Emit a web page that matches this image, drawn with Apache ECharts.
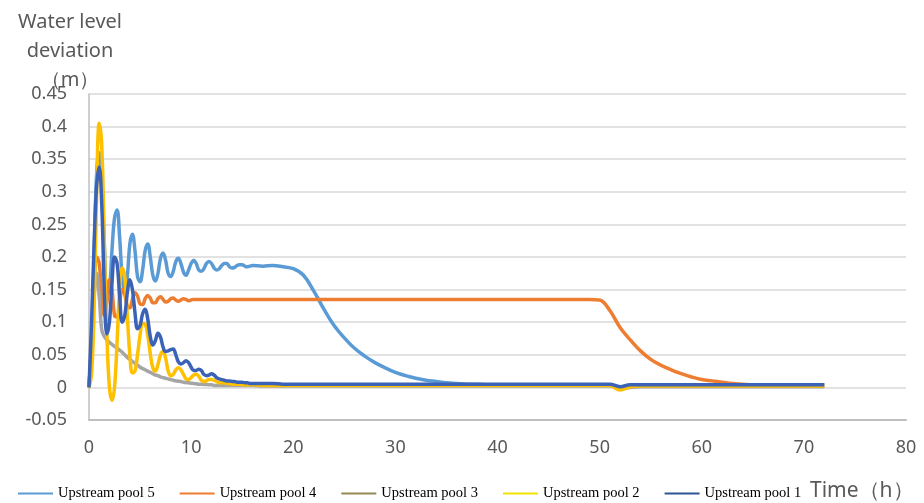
<!DOCTYPE html>
<html>
<head>
<meta charset="utf-8">
<script src="https://cdn.jsdelivr.net/npm/echarts@6/dist/echarts.min.js"></script>
<style>html,body{margin:0;padding:0;background:#fff}#chart{width:924px;height:503px}</style>
</head>
<body>
<div id="chart"></div>
<script>
// time axis (h)
const hours = [0,0.25,0.5,0.75,1,1.25,1.5,1.75,2,2.25,2.5,2.75,3,3.25,3.5,3.75,4,4.25,4.5,4.75,5,5.25,5.5,5.75,6,6.25,6.5,6.75,7,7.25,7.5,7.75,8,8.25,8.5,8.75,9,9.25,9.5,9.75,10,10.25,10.5,10.75,11,11.25,11.5,11.75,12,12.25,12.5,12.75,13,13.25,13.5,13.75,14,14.25,14.5,14.75,15,15.25,15.5,15.75,16,
17,18,19,20,21,22,23,24,25,26,27,28,29,30,31,32,33,34,35,36,37,38,39,40,41,42,43,44,45,46,47,48,49,50,51,52,53,54,55,56,57,58,59,60,61,62,63,64,65,66,67,68,69,70,71,72];

const seriesNames = ['Upstream pool 5','Upstream pool 4','Upstream pool 3','Upstream pool 2','Upstream pool 1'];

const pool5 = [0,0.07,0.2,0.33,0.36,0.32,0.22,0.14,0.15,0.21,0.26,0.272,0.23,0.17,0.147,0.17,0.22,0.235,0.21,0.17,0.162,0.18,0.21,0.22,0.2,0.172,0.163,0.175,0.198,0.206,0.195,0.175,0.17,0.178,0.193,0.198,0.19,0.177,0.172,0.18,0.19,0.195,0.19,0.18,0.178,0.182,0.19,0.193,0.19,0.183,0.18,0.182,0.187,0.19,0.19,0.185,0.183,0.184,0.187,0.188,0.188,0.186,0.185,0.186,0.187,
0.186,0.187,0.185,0.182,0.172,0.148,0.12,0.095,0.076,0.06,0.048,0.038,0.03,0.023,0.018,0.014,0.011,0.009,0.007,0.006,0.005,0.005,0.004,0.004,0.004,0.004,0.004,0.004,0.004,0.004,0.004,0.004,0.004,0.004,0.004,-0.002,0.002,0.003,0.003,0.003,0.003,0.003,0.003,0.003,0.003,0.003,0.003,0.003,0.003,0.003,0.003,0.003,0.003,0.003,0.003];

const pool4 = [0,0.07,0.16,0.2,0.19,0.14,0.11,0.13,0.165,0.15,0.11,0.108,0.13,0.15,0.143,0.125,0.122,0.135,0.145,0.14,0.128,0.127,0.136,0.141,0.137,0.13,0.13,0.136,0.139,0.135,0.131,0.132,0.136,0.137,0.134,0.132,0.134,0.136,0.135,0.133,0.134,0.135,0.135,0.135,0.135,0.135,0.135,0.135,0.135,0.135,0.135,0.135,0.135,0.135,0.135,0.135,0.135,0.135,0.135,0.135,0.135,0.135,0.135,0.135,0.135,
0.135,0.135,0.135,0.135,0.135,0.135,0.135,0.135,0.135,0.135,0.135,0.135,0.135,0.135,0.135,0.135,0.135,0.135,0.135,0.135,0.135,0.135,0.135,0.135,0.135,0.135,0.135,0.135,0.135,0.135,0.135,0.135,0.135,0.134,0.118,0.092,0.073,0.056,0.043,0.034,0.027,0.021,0.016,0.012,0.01,0.008,0.006,0.005,0.004,0.004,0.004,0.004,0.004,0.004,0.004,0.004];

const pool3 = [0,0.06,0.14,0.175,0.14,0.088,0.078,0.073,0.069,0.066,0.063,0.06,0.057,0.054,0.05,0.046,0.043,0.04,0.037,0.034,0.031,0.029,0.027,0.025,0.023,0.021,0.019,0.018,0.016,0.015,0.014,0.013,0.012,0.011,0.01,0.0095,0.009,0.008,0.0075,0.007,0.0065,0.006,0.0055,0.005,0.005,0.0045,0.0045,0.004,0.004,0.003,0.003,0.003,0.003,0.003,0.003,0.003,0.003,0.003,0.003,0.003,0.003,0.003,0.003,0.003,0.003,
0.002,0.002,0.002,0.002,0.002,0.002,0.002,0.002,0.002,0.002,0.002,0.002,0.002,0.002,0.002,0.002,0.002,0.002,0.002,0.002,0.002,0.002,0.002,0.002,0.002,0.002,0.002,0.002,0.002,0.002,0.002,0.002,0.002,0.002,0.002,-0.003,0,0.001,0.001,0.001,0.001,0.001,0.001,0.001,0.001,0.001,0.001,0.001,0.001,0.001,0.001,0.001,0.001,0.001,0.001,0.001];

const pool2 = [0,0.02,0.12,0.3,0.405,0.37,0.22,0.08,0,-0.02,0,0.07,0.15,0.183,0.17,0.11,0.05,0.022,0.025,0.05,0.08,0.098,0.097,0.08,0.052,0.03,0.025,0.035,0.05,0.055,0.045,0.025,0.018,0.02,0.027,0.03,0.027,0.02,0.013,0.012,0.015,0.019,0.02,0.017,0.011,0.009,0.01,0.012,0.012,0.011,0.009,0.007,0.007,0.007,0.006,0.006,0.005,0.005,0.005,0.005,0.004,0.004,0.004,0.004,0.004,
0.003,0.003,0.003,0.003,0.003,0.003,0.003,0.003,0.003,0.003,0.003,0.003,0.003,0.003,0.003,0.003,0.003,0.003,0.003,0.003,0.003,0.003,0.003,0.003,0.003,0.003,0.003,0.003,0.003,0.003,0.003,0.003,0.003,0.003,0.003,-0.004,0.001,0.002,0.002,0.002,0.002,0.002,0.002,0.002,0.002,0.002,0.002,0.002,0.002,0.002,0.002,0.002,0.002,0.002,0.002,0.002];

const pool1 = [0,0.1,0.22,0.31,0.338,0.28,0.15,0.082,0.1,0.16,0.2,0.19,0.14,0.1,0.11,0.145,0.165,0.15,0.115,0.09,0.095,0.113,0.12,0.105,0.078,0.065,0.072,0.083,0.077,0.062,0.055,0.056,0.058,0.059,0.05,0.039,0.036,0.038,0.041,0.038,0.031,0.026,0.026,0.028,0.026,0.02,0.018,0.019,0.021,0.019,0.015,0.013,0.012,0.011,0.01,0.01,0.009,0.009,0.008,0.008,0.008,0.007,0.007,0.006,0.006,
0.006,0.006,0.005,0.005,0.005,0.005,0.005,0.005,0.005,0.005,0.005,0.005,0.005,0.005,0.005,0.005,0.005,0.005,0.005,0.005,0.005,0.005,0.005,0.005,0.005,0.005,0.005,0.005,0.005,0.005,0.005,0.005,0.005,0.005,0.005,0.001,0.004,0.004,0.004,0.004,0.004,0.004,0.004,0.004,0.004,0.004,0.004,0.004,0.004,0.004,0.004,0.004,0.004,0.004,0.004,0.004];

const allValues = [pool5, pool4, pool3, pool2, pool1];
const lineColors = ['#5B9BD5','#ED7D31','#A5A5A5','#FFC000','#3A63B8'];
const legendColors = ['#5B9BD5','#ED7D31','#948A54','#F2E200','#2F5597'];

const chart = echarts.init(document.getElementById('chart'), null, {renderer:'canvas'});
const labelFont = 'Noto Sans';
chart.setOption({
  animation: false,
  backgroundColor: '#fff',
  grid: {left: 89, right: 18, top: 94, bottom: 83, containLabel: false},
  legend: {
    left: 18, top: 486, padding: 0, icon: 'rect', itemWidth: 35, itemHeight: 2, itemGap: 25,
    textStyle: {fontFamily: 'Liberation Serif', fontSize: 14.5, color: '#000'},
    data: seriesNames.map((n, i) => ({name: n, itemStyle: {color: legendColors[i]}}))
  },
  xAxis: {
    type: 'value', min: 0, max: 80, interval: 10,
    axisLine: {show: true, onZero: false, lineStyle: {color: '#BFBFBF', width: 2}},
    axisTick: {show: false}, splitLine: {show: false},
    axisLabel: {margin: 19, fontSize: 18, color: '#595959', fontFamily: labelFont}
  },
  yAxis: {
    type: 'value', min: -0.05, max: 0.45, interval: 0.05,
    axisLine: {show: true, lineStyle: {color: '#BFBFBF', width: 1.5}},
    axisTick: {show: false},
    splitLine: {show: true, lineStyle: {color: '#D9D9D9', width: 1.5}},
    axisLabel: {margin: 22, fontSize: 18, color: '#595959', fontFamily: labelFont}
  },
  graphic: [
    {type: 'text', x: 70, y: 8, style: {text: 'Water level\ndeviation\n（m）', font: '20px "Noto Sans"', fill: '#595959', textAlign: 'center', lineHeight: 29}},
    {type: 'text', x: 810, y: 481, style: {text: 'Time（h）', font: '21px "Noto Sans"', fill: '#595959'}}
  ],
  series: seriesNames.map((n, i) => ({
    name: n, type: 'line', symbol: 'none', smooth: 0.4,
    color: lineColors[i],
    lineStyle: {width: 3.5, color: lineColors[i]},
    data: hours.map((t, j) => [t, allValues[i][j]])
  }))
});
</script>
</body>
</html>
